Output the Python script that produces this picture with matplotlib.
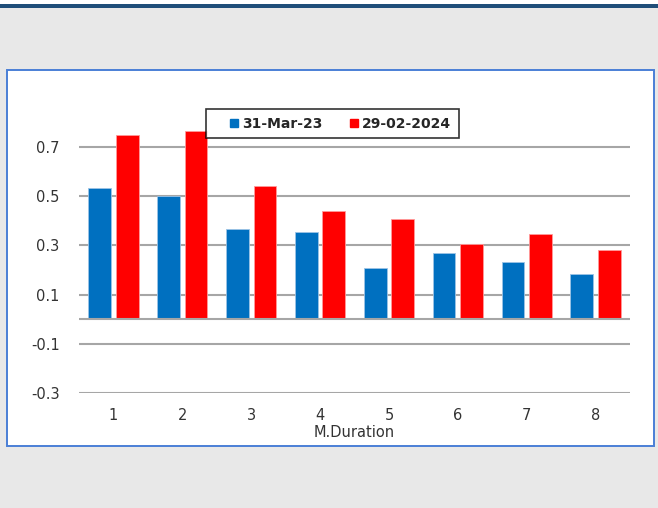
import matplotlib
matplotlib.use("Agg")
import matplotlib.pyplot as plt
from matplotlib.patches import Rectangle
from matplotlib.lines import Line2D
import numpy as np

# Modified duration by bucket, two snapshot dates
durations = ["1", "2", "3", "4", "5", "6", "7", "8"]
mar23 = [0.533, 0.50, 0.366, 0.354, 0.207, 0.268, 0.234, 0.182]
feb24 = [0.746, 0.765, 0.539, 0.44, 0.407, 0.307, 0.347, 0.28]
series_labels = ["31-Mar-23", "29-02-2024"]
yticks = [-0.3, -0.1, 0.1, 0.3, 0.5, 0.7]

W, H = 658, 508
bg = "#E8E8E8"
blue = "#0070C0"
red = "#FF0000"
grid_c = "#A6A6A6"
text_c = "#333333"

fig = plt.figure(figsize=(W / 100, H / 100), dpi=100, facecolor=bg)

# header strip and dark rule along the top
fig.patches.append(Rectangle((0, 1 - 4 / H), 1, 4 / H, transform=fig.transFigure,
                             facecolor="white", edgecolor="none", zorder=-10))
fig.patches.append(Rectangle((0, 1 - 7.5 / H), 1, 3.5 / H, transform=fig.transFigure,
                             facecolor="#1F4E79", edgecolor="none", zorder=-10))
# white chart panel with blue border
fig.patches.append(Rectangle((7 / W, 1 - 446 / H), 647 / W, 376 / H, transform=fig.transFigure,
                             facecolor="white", edgecolor="#4A7FD6", linewidth=1.4, zorder=-10))

ax = fig.add_axes([79 / W, 0.2264, 551 / W, 0.5573])
ax.set_facecolor("none")

x = np.arange(len(durations))
bw = 0.33
ax.bar(x - 0.2, mar23, width=bw, color=blue, edgecolor="#9CC3E6", linewidth=0.6, zorder=3)
ax.bar(x + 0.2, feb24, width=bw, color=red, edgecolor="#FF9A9A", linewidth=0.6, zorder=3)

ax.set_xlim(-0.5, len(durations) - 0.5)
ax.set_ylim(-0.3, 0.85)
ax.set_yticks(yticks)
ax.set_yticklabels([f"{v:.1f}" for v in yticks])
ax.set_xticks(x)
ax.set_xticklabels(durations)

for v in yticks:
    ax.axhline(v, color=grid_c, linewidth=1.5, zorder=1)
ax.axhline(0, color=grid_c, linewidth=1.5, zorder=4)

for s in ax.spines.values():
    s.set_visible(False)
ax.tick_params(axis="y", length=0, pad=14, labelsize=10.5, labelcolor=text_c)
ax.tick_params(axis="x", length=0, pad=11, labelsize=10.5, labelcolor=text_c)
ax.set_xlabel("M.Duration", fontsize=10.5, color=text_c, labelpad=1)

# small square markers as legend keys
handles = [Line2D([], [], linestyle="none", marker="s", markersize=5.5,
                  markerfacecolor=c, markeredgecolor=c) for c in (blue, red)]
leg = ax.legend(handles, series_labels, loc="upper left",
                bbox_to_anchor=(127 / 551, 1.003), ncol=2,
                frameon=True, fancybox=False, handlelength=2.9,
                handletextpad=-0.85, columnspacing=0.8, borderpad=0.55,
                borderaxespad=0, prop={"weight": "bold", "size": 10})
leg.get_frame().set_edgecolor("black")
leg.get_frame().set_linewidth(1.2)
for t in leg.get_texts():
    t.set_color("#262626")

fig.savefig("out.png", dpi=100, facecolor=bg)
